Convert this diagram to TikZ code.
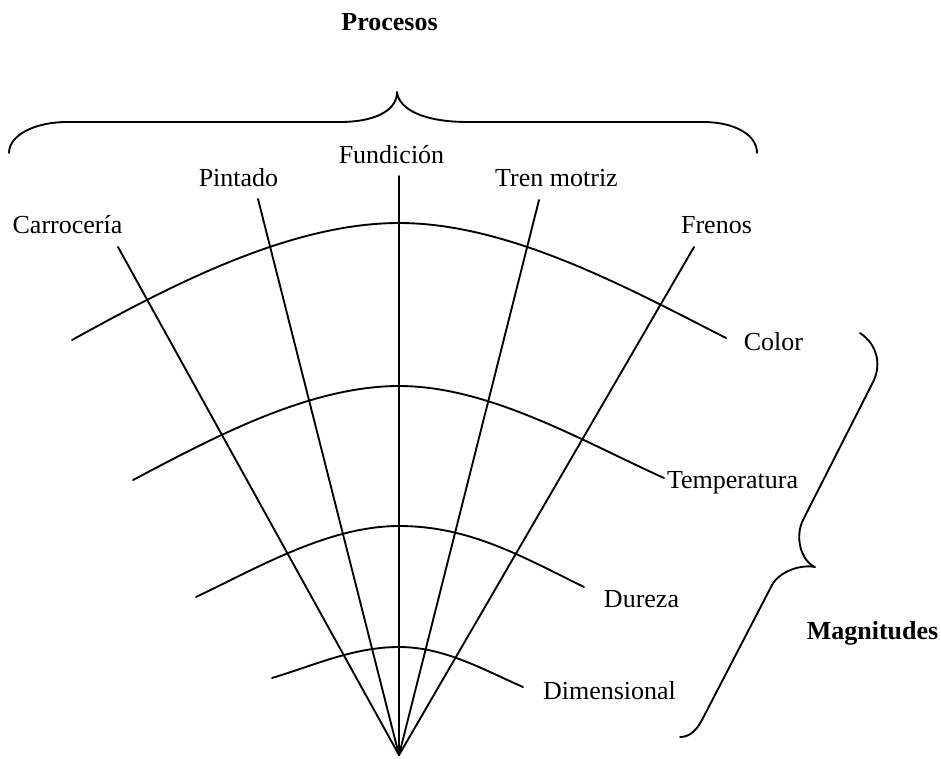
\documentclass[tikz,border=0pt]{standalone}
\usepackage{fontspec}
\setmainfont{Liberation Serif}
\begin{document}
\begin{tikzpicture}[x=0.75pt,y=-0.75pt,
  stroke/.style={line width=1.4pt, line cap=round, line join=round},
  lbl/.style={anchor=base, inner sep=0pt, font=\fontsize{19.5}{23}\selectfont},
  ttl/.style={anchor=base, inner sep=0pt, font=\fontsize{19.5}{23}\selectfont\bfseries}]
\useasboundingbox (0,0) rectangle (941,758);

% headings
\node[ttl] (procesos)   at (389.5,30) {Procesos};
\node[ttl] (magnitudes) at (872.5,639) {Magnitudes};

% process labels
\node[lbl] (carroceria) at (67.5,233)  {Carrocería};
\node[lbl] (pintado)    at (238.5,186) {Pintado};
\node[lbl] (fundicion)  at (391.5,163) {Fundición};
\node[lbl] (tren)       at (556.5,186) {Tren motriz};
\node[lbl] (frenos)     at (716.5,233) {Frenos};

% magnitude labels
\node[lbl] (color)       at (773.5,350) {Color};
\node[lbl] (temperatura) at (732.5,488) {Temperatura};
\node[lbl] (dureza)      at (641.5,607) {Dureza};
\node[lbl] (dimensional) at (609.5,699) {Dimensional};

% fan of process spokes
\coordinate (O) at (399,755);
\coordinate (sCarr) at (118,247);
\coordinate (sPint) at (258,199);
\coordinate (sFund) at (399,176);
\coordinate (sTren) at (539,200);
\coordinate (sFren) at (694,247);
\foreach \s in {sCarr,sPint,sFund,sTren,sFren}
  \draw[stroke] (O) -- (\s);

% magnitude arcs
\coordinate (cL) at (72,340);  \coordinate (cP) at (399,223); \coordinate (cR) at (726,338);
\draw[stroke] (cL) .. controls (168,287) and (289,223) .. (cP)
                   .. controls (509,223) and (628,288) .. (cR);
\coordinate (tL) at (133,480); \coordinate (tP) at (399,386); \coordinate (tR) at (664,478);
\draw[stroke] (tL) .. controls (212.5,438) and (309,386) .. (tP)
                   .. controls (489,386) and (582,441) .. (tR);
\coordinate (dL) at (196,597); \coordinate (dP) at (399,526); \coordinate (dR) at (584,587);
\draw[stroke] (dL) .. controls (259,567) and (329,526) .. (dP)
                   .. controls (469,526) and (521,556) .. (dR);
\coordinate (mL) at (272,678); \coordinate (mP) at (399,647); \coordinate (mR) at (523,687);
\draw[stroke] (mL) .. controls (315,665) and (354,647) .. (mP)
                   .. controls (444,647) and (482,669) .. (mR);

% brace over the processes
\draw[stroke] (9,153) .. controls (9,135) and (35,122) .. (67,122) -- (340,122)
   .. controls (372,122) and (397,112) .. (397,92)
   .. controls (399,110) and (425,122) .. (468,122) -- (703,122)
   .. controls (735,122) and (757,135) .. (757,153);

% slanted brace beside the magnitudes
\draw[stroke] (860,333) .. controls (878,345) and (882,366) .. (872,384) -- (803,520)
   .. controls (795,536) and (800,560) .. (815,567)
   .. controls (800,564) and (779,572) .. (772,585) -- (703,718)
   .. controls (697,730) and (690,737) .. (680,737);
\end{tikzpicture}
\end{document}
